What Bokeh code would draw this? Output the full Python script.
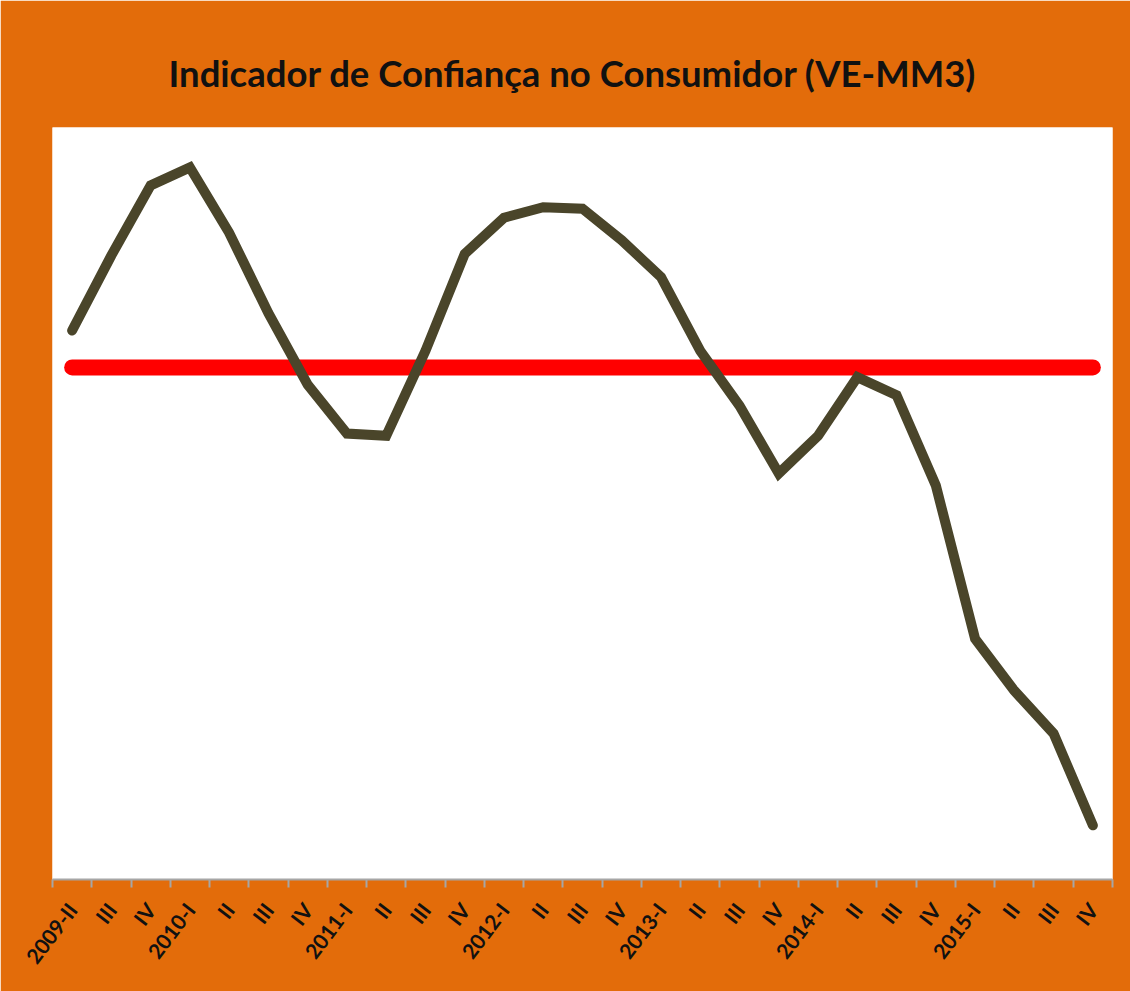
from bokeh.plotting import figure
from bokeh.models import Range1d, FixedTicker, Title
from bokeh.embed import file_html
from bokeh.resources import INLINE

# ---- data ----
quarters = ["2009-II", "III", "IV",
            "2010-I", "II", "III", "IV",
            "2011-I", "II", "III", "IV",
            "2012-I", "II", "III", "IV",
            "2013-I", "II", "III", "IV",
            "2014-I", "II", "III", "IV",
            "2015-I", "II", "III", "IV"]
icc_values = [73.0, 83.0, 92.3,
              94.7, 86.0, 75.3, 65.8,
              59.3, 59.0, 70.3, 83.2,
              88.0, 89.4, 89.2, 85.0,
              80.1, 70.3, 63.0, 54.0,
              59.0, 66.8, 64.4, 52.4,
              32.0, 25.1, 19.4, 7.2]
reference_level = 68.1

title_text = "Indicador de Confiança no Consumidor (VE-MM3)"

ORANGE = "#E36C0A"
OLIVE = "#4A452A"

x = list(range(len(quarters)))

p = figure(width=1130, height=991, output_backend="svg", toolbar_location=None,
           x_range=Range1d(-0.5, len(quarters) - 0.5), y_range=Range1d(0, 100),
           y_axis_location=None,
           min_border_left=52, min_border_right=18, min_border_top=127, min_border_bottom=112)

p.background_fill_color = "white"
p.border_fill_color = ORANGE
p.outline_line_color = None
p.xgrid.visible = False
p.ygrid.visible = False

t = Title(text=title_text, align="left", text_font="Lato", text_font_size="36.5px",
          text_font_style="bold", text_color="#111111", standoff=65, offset=116)
p.add_layout(t, "above")

ax = p.xaxis[0]
ax.ticker = FixedTicker(ticks=x, minor_ticks=[i - 0.5 for i in range(len(quarters) + 1)])
ax.major_label_overrides = {i: lab for i, lab in enumerate(quarters)}
ax.major_label_orientation = 0.92
ax.major_label_text_font = "Lato"
ax.major_label_text_font_style = "bold"
ax.major_label_text_font_size = "21px"
ax.major_label_text_color = "#111111"
ax.major_label_standoff = 18
ax.axis_line_color = "#A6A6A6"
ax.axis_line_width = 2
ax.major_tick_line_color = None
ax.major_tick_out = 0
ax.major_tick_in = 0
ax.minor_tick_line_color = "#A6A6A6"
ax.minor_tick_line_width = 2
ax.minor_tick_out = 8
ax.minor_tick_in = 0

p.line(x=[x[0], x[-1]], y=[reference_level, reference_level], line_color="#FF0000",
       line_width=16, line_cap="round")
p.line(x=x, y=icc_values, line_color=OLIVE, line_width=10, line_cap="round", line_join="miter")

open("out.html", "w").write(file_html(p, INLINE))
